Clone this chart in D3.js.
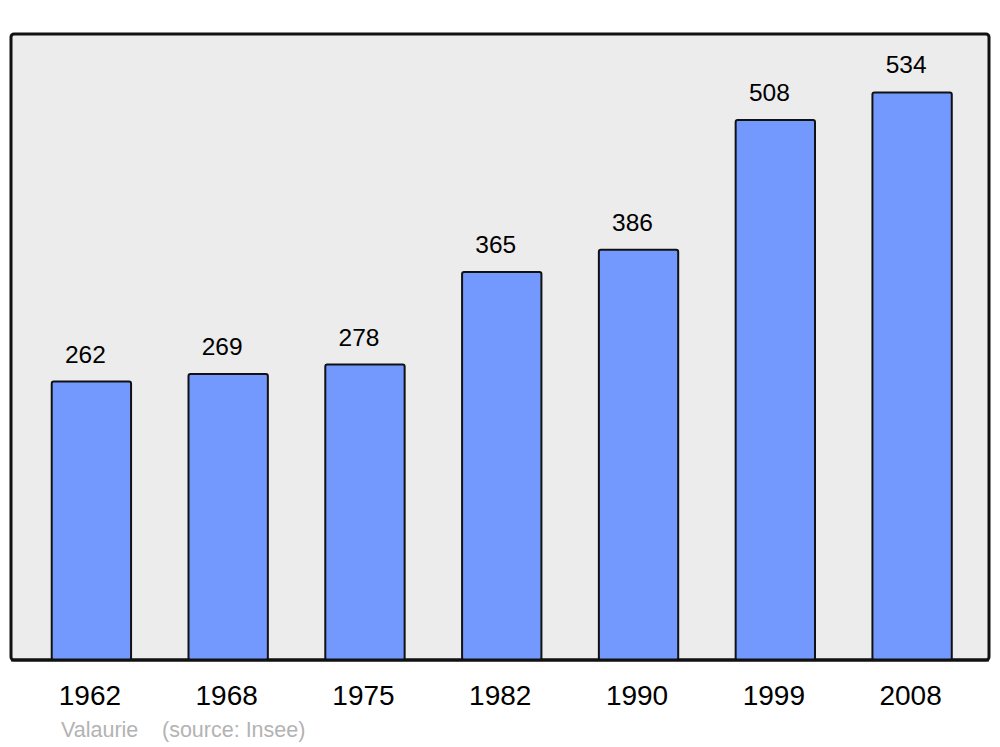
<!DOCTYPE html>
<html>
<head>
<meta charset="utf-8">
<script src="https://cdn.jsdelivr.net/npm/d3@7"></script>
<style>
  body { margin: 0; background: #fff; }
  text { font-family: "Liberation Sans", Arial, sans-serif; }
</style>
</head>
<body>
<svg id="chart"></svg>
<script>
var years = ["1962", "1968", "1975", "1982", "1990", "1999", "2008"];
var population = [262, 269, 278, 365, 386, 508, 534];
var commune = "Valaurie";
var source = "(source: Insee)";

var width = 1000, height = 747;
var panel = { left: 11, top: 34, right: 989, bottom: 660 };

var svg = d3.select("#chart").attr("width", width).attr("height", height);

// background panel
svg.append("rect")
  .attr("x", panel.left)
  .attr("y", panel.top)
  .attr("width", panel.right - panel.left)
  .attr("height", panel.bottom - panel.top)
  .attr("rx", 3)
  .attr("fill", "#ececec")
  .attr("stroke", "#111")
  .attr("stroke-width", 3);

var xs = d3.scaleBand()
  .domain(years)
  .range([23, 980.5])
  .paddingInner(0.42)
  .paddingOuter(0.21);

var ys = d3.scaleLinear()
  .domain([0, 589])
  .range([panel.bottom, panel.top]);

var data = years.map(function (y, i) { return { year: y, value: population[i] }; });

// bars
svg.append("g")
  .selectAll("rect")
  .data(data)
  .enter()
  .append("rect")
  .attr("x", function (d) { return xs(d.year); })
  .attr("y", function (d) { return ys(d.value); })
  .attr("width", xs.bandwidth())
  .attr("height", function (d) { return panel.bottom - ys(d.value); })
  .attr("rx", 2)
  .attr("fill", "#7399ff")
  .attr("stroke", "#111")
  .attr("stroke-width", 2);

// redraw bottom edge of panel over bars
svg.append("line")
  .attr("x1", panel.left).attr("x2", panel.right)
  .attr("y1", panel.bottom).attr("y2", panel.bottom)
  .attr("stroke", "#111")
  .attr("stroke-width", 3);

// value labels
svg.append("g")
  .selectAll("text")
  .data(data)
  .enter()
  .append("text")
  .attr("x", function (d) { return xs(d.year) + xs.bandwidth() / 2 - 6; })
  .attr("y", function (d) { return ys(d.value) - 19; })
  .attr("text-anchor", "middle")
  .style("font-size", "24.5px")
  .attr("fill", "#000")
  .text(function (d) { return d.value; });

// year labels
var xAxis = svg.append("g")
  .attr("transform", "translate(0," + panel.bottom + ")")
  .call(d3.axisBottom(xs).tickSize(0).tickPadding(0));
xAxis.select(".domain").remove();
xAxis.selectAll("text")
  .attr("dy", 0)
  .attr("y", 45)
  .attr("x", -1.5)
  .style("font-family", "'Liberation Sans', Arial, sans-serif")
  .style("font-size", "28px")
  .attr("fill", "#000");

// credits
svg.append("text")
  .attr("x", 61).attr("y", 737)
  .style("font-size", "21.5px")
  .attr("fill", "#b3b3b3")
  .text(commune);
svg.append("text")
  .attr("x", 162).attr("y", 737)
  .style("font-size", "21.5px")
  .attr("fill", "#b3b3b3")
  .text(source);
</script>
</body>
</html>
